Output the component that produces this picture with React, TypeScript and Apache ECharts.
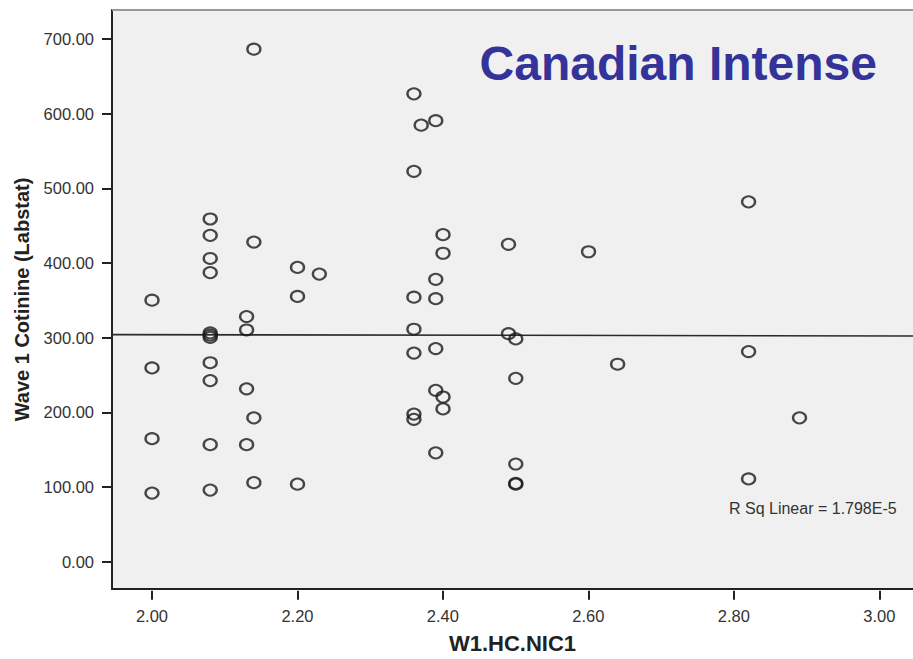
import React, { useEffect, useRef } from "react";
import * as echarts from "echarts";

// W1.HC.NIC1 (x) and Wave 1 Cotinine (Labstat) (y)
const nicotine = [
  2.0, 2.0, 2.0, 2.0,
  2.08, 2.08, 2.08, 2.08, 2.08, 2.08, 2.08, 2.08, 2.08, 2.08, 2.08,
  2.13, 2.13, 2.13, 2.13,
  2.14, 2.14, 2.14, 2.14,
  2.2, 2.2, 2.2,
  2.23,
  2.36, 2.36, 2.36, 2.36, 2.36, 2.36, 2.36,
  2.37,
  2.39, 2.39, 2.39, 2.39, 2.39, 2.39,
  2.4, 2.4, 2.4, 2.4,
  2.49, 2.49,
  2.5, 2.5, 2.5, 2.5, 2.5,
  2.6,
  2.64,
  2.82, 2.82, 2.82,
  2.89,
];
const cotinine = [
  349, 258, 163, 90,
  458, 436, 405, 386, 305, 302, 299, 265, 241, 155, 94,
  327, 309, 230, 155,
  686, 427, 191, 104,
  393, 354, 102,
  384,
  626, 522, 353, 310, 278, 196, 189,
  584,
  590, 377, 351, 284, 228, 144,
  437, 412, 219, 203,
  424, 304,
  297, 244, 129, 103, 102,
  414,
  263,
  481, 280, 109,
  191,
];

// Linear fit line (endpoints)
const fitX = [1.945, 3.046];
const fitY = [302.8, 300.8];

// Axis extents
const xRange = [1.945, 3.046];
const yRange = [-38.8, 738.6];
const xTickRange = [2.0, 3.0];
const yTickRange = [0, 700];
const xTickStep = 0.2;
const yTickStep = 100;

const titleText = "Canadian Intense";
const rsqText = "R Sq Linear = 1.798E-5";
const xName = "W1.HC.NIC1";
const yName = "Wave 1 Cotinine (Labstat)";

const FONT = 'Arial, "Liberation Sans", sans-serif';

export default function App() {
  const ref = useRef<HTMLDivElement>(null);

  useEffect(() => {
    if (!ref.current) return;
    const chart = echarts.init(ref.current, undefined, { renderer: "svg" });
    const points = nicotine.map((x, i) => [x, cotinine[i]]);
    const fit = fitX.map((x, i) => [x, fitY[i]]);

    const option: any = {
      animation: false,
      backgroundColor: "#ffffff",
      grid: [
        {
          left: 112,
          right: 0,
          top: 10,
          bottom: 68.3,
          show: true,
          backgroundColor: "#f0f0f0",
          borderWidth: 0,
        },
        {
          left: 152,
          right: 33.7,
          top: 39,
          bottom: 97.3,
          show: false,
        },
      ],
      xAxis: [
        {
          type: "value",
          gridIndex: 0,
          min: xRange[0],
          max: xRange[1],
          axisLine: { show: true, onZero: false, lineStyle: { color: "#222", width: 2 } },
          axisTick: { show: false },
          axisLabel: { show: false },
          splitLine: { show: false },
          name: xName,
          nameLocation: "middle",
          nameGap: 43,
          nameTextStyle: { fontFamily: FONT, fontSize: 22, fontWeight: "bold", color: "#222" },
        },
        {
          type: "value",
          gridIndex: 1,
          min: xTickRange[0],
          max: xTickRange[1],
          interval: xTickStep,
          offset: 29,
          axisLine: { show: false, onZero: false },
          axisTick: { show: true, length: 9, lineStyle: { color: "#222", width: 2 } },
          axisLabel: {
            formatter: (v: number) => v.toFixed(2),
            color: "#333",
            fontSize: 16.5,
            fontFamily: FONT,
            margin: 17,
          },
          splitLine: { show: false },
        },
      ],
      yAxis: [
        {
          type: "value",
          gridIndex: 0,
          min: yRange[0],
          max: yRange[1],
          axisLine: { show: true, onZero: false, lineStyle: { color: "#222", width: 2 } },
          axisTick: { show: false },
          axisLabel: { show: false },
          splitLine: { show: false },
          name: yName,
          nameLocation: "middle",
          nameGap: 80,
          nameTextStyle: { fontFamily: FONT, fontSize: 20, fontWeight: "bold", color: "#222" },
        },
        {
          type: "value",
          gridIndex: 1,
          min: yTickRange[0],
          max: yTickRange[1],
          interval: yTickStep,
          offset: 40,
          axisLine: { show: false, onZero: false },
          axisTick: { show: true, length: 10, lineStyle: { color: "#222", width: 2 } },
          axisLabel: {
            formatter: (v: number) => v.toFixed(2),
            color: "#333",
            fontSize: 16.5,
            fontFamily: FONT,
            margin: 18,
          },
          splitLine: { show: false },
        },
      ],
      series: [
        {
          type: "line",
          xAxisIndex: 0,
          yAxisIndex: 0,
          data: fit,
          showSymbol: false,
          symbol: "none",
          lineStyle: { color: "#2a2a2a", width: 1.6 },
          z: 2,
        },
        {
          type: "scatter",
          xAxisIndex: 0,
          yAxisIndex: 0,
          data: points,
          symbol: "circle",
          symbolSize: [13, 11],
          itemStyle: { color: "rgba(0,0,0,0)", borderColor: "#1a1a1a", borderWidth: 2.2 },
          z: 3,
        },
      ],
      graphic: [
        {
          type: "line",
          shape: { x1: 112, y1: 10, x2: 913, y2: 10 },
          style: { stroke: "#999", lineWidth: 2 },
          z: 10,
        },
        {
          type: "text",
          x: 877,
          y: 63,
          style: {
            text: titleText,
            fill: "#333399",
            font: `bold 48px ${FONT}`,
            align: "right",
            verticalAlign: "middle",
          },
          z: 10,
        },
        {
          type: "text",
          x: 729,
          y: 508,
          style: {
            text: rsqText,
            fill: "#333",
            font: `16px ${FONT}`,
            align: "left",
            verticalAlign: "middle",
          },
          z: 10,
        },
      ],
    };

    chart.setOption(option);
    return () => chart.dispose();
  }, []);

  return (
    <div
      ref={ref}
      style={{ position: "fixed", left: 0, top: 0, width: 913, height: 659 }}
    />
  );
}
